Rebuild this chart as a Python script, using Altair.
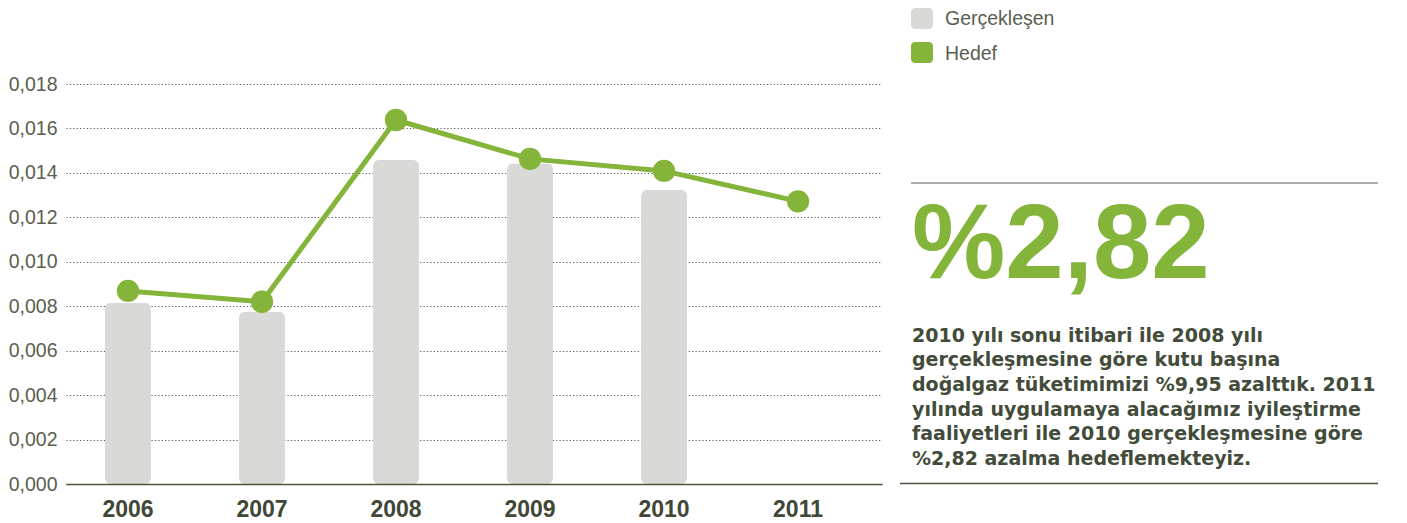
import altair as alt
import pandas as pd

years = ["2006", "2007", "2008", "2009", "2010", "2011"]
bar_years = ["2006", "2007", "2008", "2009", "2010"]
actual = [0.00816, 0.00775, 0.01458, 0.01443, 0.01323]
target = [0.00869, 0.00820, 0.01638, 0.01463, 0.01409, 0.01272]
y_ticks = [0.0, 0.002, 0.004, 0.006, 0.008, 0.010, 0.012, 0.014, 0.016, 0.018]
legend_labels = ["Gerçekleşen", "Hedef"]
legend_colors = ["#d9d9d7", "#84b53a"]
big_number = "%2,82"
paragraph = [
    "2010 yılı sonu itibari ile 2008 yılı",
    "gerçekleşmesine göre kutu başına",
    "doğalgaz tüketimimizi %9,95 azalttık. 2011",
    "yılında uygulamaya alacağımız iyileştirme",
    "faaliyetleri ile 2010 gerçekleşmesine göre",
    "%2,82 azalma hedeflemekteyiz.",
]

GREEN = "#84b53a"
GRAY = "#d9d9d7"
DARK = "#434c3a"
AXISTXT = "#59604f"

bars_df = pd.DataFrame({"year": bar_years, "value": actual})
line_df = pd.DataFrame({"year": years, "value": target})

xscale = alt.Scale(domain=years, paddingInner=0.657, paddingOuter=0.373, align=0.39)
yscale = alt.Scale(domain=[0, 0.018], nice=False)

x_enc = alt.X(
    "year:N",
    scale=xscale,
    title=None,
    axis=alt.Axis(
        grid=False, ticks=False, domain=True, domainColor="#4a5240", domainWidth=1.5,
        labelAngle=0, labelFont="Liberation Sans", labelFontWeight="bold",
        labelFontSize=23, labelColor="#3f4737", labelPadding=14, zindex=1,
    ),
)
y_enc = alt.Y(
    "value:Q",
    scale=yscale,
    title=None,
    axis=alt.Axis(
        values=y_ticks, grid=True, gridColor="#555555", gridDash=[1.2, 2.2], gridWidth=1,
        ticks=False, domain=False, labelFont="Liberation Sans", labelFontSize=19.5,
        labelColor=AXISTXT, labelPadding=9,
        labelExpr="replace(format(datum.value, '.3f'), '.', ',')", zindex=0,
    ),
)

bars = alt.Chart(bars_df).mark_bar(color=GRAY, cornerRadius=6).encode(x=x_enc, y=y_enc)
line = alt.Chart(line_df).mark_line(color=GREEN, strokeWidth=5).encode(x="year:N", y="value:Q")
points = alt.Chart(line_df).mark_circle(color=GREEN, size=500, opacity=1).encode(x="year:N", y="value:Q")

# legend (custom)
leg_df = pd.DataFrame({"label": legend_labels, "color": legend_colors,
                       "y0": [-76, -42], "y1": [-55, -21], "ty": [-59, -24]})
leg_sq = alt.Chart(leg_df).mark_rect(cornerRadius=4).encode(
    x=alt.value(845), x2=alt.value(867),
    y=alt.Y("y0:Q", scale=None), y2="y1:Q",
    color=alt.Color("color:N", scale=None),
)
leg_txt = alt.Chart(leg_df).mark_text(
    align="left", baseline="alphabetic", font="Liberation Sans", fontSize=19.5, color=AXISTXT
).encode(x=alt.value(879), y=alt.Y("ty:Q", scale=None), text="label:N")

top_rule = alt.Chart(pd.DataFrame({"a": [0]})).mark_rule(color="#5a5a5a", strokeWidth=1).encode(
    x=alt.value(845), x2=alt.value(1312), y=alt.value(99)
)
bottom_rule = alt.Chart(pd.DataFrame({"a": [0]})).mark_rule(color="#4a5240", strokeWidth=1.5).encode(
    x=alt.value(834), x2=alt.value(1312), y=alt.value(399.5)
)
big = alt.Chart(pd.DataFrame({"t": [big_number]})).mark_text(
    align="left", baseline="alphabetic", font="Liberation Sans", fontWeight="bold",
    fontSize=105, color=GREEN
).encode(x=alt.value(846), y=alt.value(194), text="t:N")
para = alt.Chart(pd.DataFrame({"a": [0]})).mark_text(
    align="left", baseline="alphabetic", font="DejaVu Sans", fontWeight="bold",
    fontSize=19, lineHeight=24.7, color=DARK, text=paragraph
).encode(x=alt.value(846), y=alt.value(257.7))

chart = alt.layer(bars, line, points, leg_sq, leg_txt, top_rule, bottom_rule, big, para).properties(
    width=816, height=400,
    padding={"left": 58, "top": 76, "right": 510, "bottom": 40},
    autosize=alt.AutoSizeParams(type="none"),
).configure_view(stroke=None)

chart.save("out.html", embed_options={"renderer": "svg", "actions": False})
